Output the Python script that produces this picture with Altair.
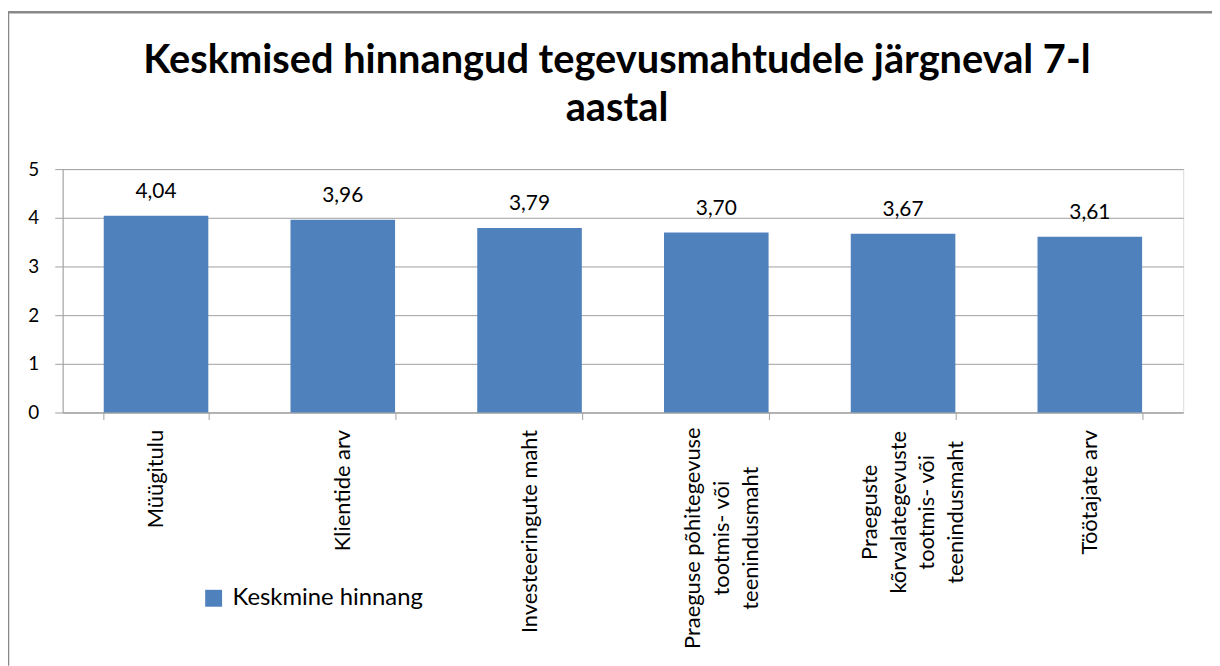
import altair as alt
import pandas as pd

categories = [
    "Müügitulu",
    "Klientide arv",
    "Investeeringute maht",
    "Praeguse põhitegevuse\ntootmis- või\nteenindusmaht",
    "Praeguste\nkõrvalategevuste\ntootmis- või\nteenindusmaht",
    "Töötajate arv",
]
values = [4.04, 3.96, 3.79, 3.70, 3.67, 3.61]
series_name = "Keskmine hinnang"
title_lines = ["Keskmised hinnangud tegevusmahtudele järgneval 7-l", "aastal"]

df = pd.DataFrame({"category": categories, "value": values, "series": series_name})

FONT = "Lato"
GRAY = "#a0a0a0"
BLUE = "#4F81BD"

# multi-line labels are centred as a block (as in the original); single-line ones hang from the axis
multi_pad = {categories[3]: 119, categories[4]: 93}
multi_shift = {categories[3]: -24, categories[4]: -34}


def cond(mapping):
    return [{"test": f"datum.value === {repr(k)}", "value": v} for k, v in mapping.items()]


x_enc = alt.X(
    "category:N",
    sort=categories,
    title=None,
    scale=alt.Scale(paddingInner=0.44, paddingOuter=0.22),
    axis=alt.Axis(
        labelAngle=-90,
        labelExpr="split(datum.label, '\\n')",
        labelAlign={"condition": cond({k: "center" for k in multi_pad}), "value": "right"},
        labelBaseline="middle",
        labelPadding={"condition": cond(multi_pad), "value": 10},
        labelOffset={"condition": cond(multi_shift), "value": 0},
        labelLineHeight=29,
        labelFontSize=22,
        labelColor="#000000",
        labelFont=FONT,
        labelLimit=400,
        tickBand="extent",
        tickSize=7,
        tickColor=GRAY,
        domainColor=GRAY,
        grid=False,
    ),
)

y_enc = alt.Y(
    "value:Q",
    title=None,
    scale=alt.Scale(domain=[0, 5], nice=False),
    axis=alt.Axis(
        values=[0, 1, 2, 3, 4, 5],
        grid=True,
        gridColor=GRAY,
        domainColor=GRAY,
        tickColor=GRAY,
        tickSize=8,
        labelPadding=16,
        labelFontSize=19,
        labelFont=FONT,
        labelColor="#000000",
    ),
)

base = alt.Chart(df)

bars = base.mark_bar().encode(
    x=x_enc,
    y=y_enc,
    color=alt.Color(
        "series:N",
        scale=alt.Scale(range=[BLUE]),
        legend=alt.Legend(
            title=None,
            orient="none",
            legendX=140,
            legendY=420,
            symbolType="square",
            symbolSize=290,
            symbolStrokeWidth=0,
            labelFontSize=24,
            labelFont=FONT,
            labelColor="#000000",
            labelOffset=7,
            labelLimit=400,
        ),
    ),
)

labels = base.transform_calculate(
    txt="replace(format(datum.value, '.2f'), '.', ',')"
).mark_text(
    baseline="alphabetic", dy=-18, fontSize=21, font=FONT, color="#000000"
).encode(
    x=alt.X("category:N", sort=categories),
    y=alt.Y("value:Q"),
    text="txt:N",
)

frame_data = alt.Data(values=[{"k": 1}])
left_border = alt.Chart(frame_data).mark_rule(color="#888888", strokeWidth=2.5).encode(
    x=alt.value(-55), y=alt.value(-158), y2=alt.value(500)
)
top_border = alt.Chart(frame_data).mark_rule(color="#888888", strokeWidth=2.5).encode(
    x=alt.value(-55), x2=alt.value(1160), y=alt.value(-158)
)

chart = (
    alt.layer(left_border, top_border, bars, labels)
    .properties(
        width=1128,
        height=245,
        padding={"left": 55, "top": 160, "right": 29, "bottom": 253},
        autosize=alt.AutoSizeParams(type="none"),
        title=alt.TitleParams(
            text=title_lines,
            fontSize=40,
            font=FONT,
            fontWeight="bold",
            color="#000000",
            anchor="middle",
            frame="group",
            baseline="bottom",
            lineHeight=49,
            offset=-159,
            dx=-6,
        ),
    )
    .configure_view(strokeOpacity=0)
    .configure(font=FONT)
)

chart.save("out.html", embed_options={"renderer": "svg", "actions": False})
